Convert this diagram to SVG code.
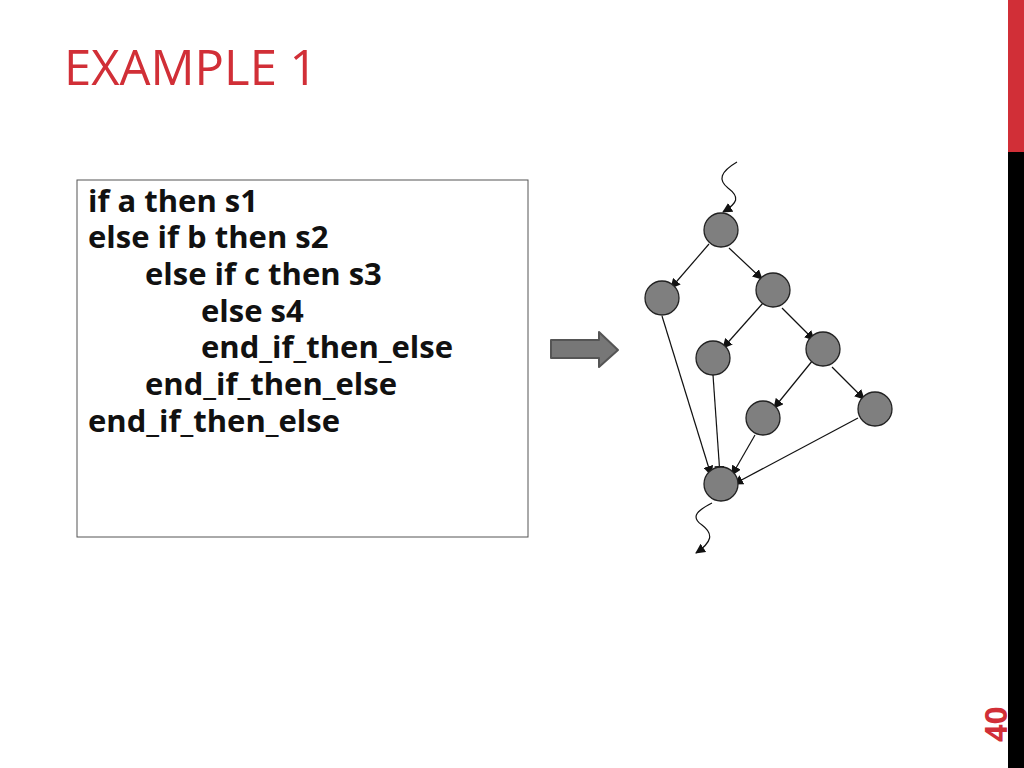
<svg xmlns="http://www.w3.org/2000/svg" width="1024" height="768" viewBox="0 0 1024 768">
<defs>
<style>
.title{font-family:"Open Sans","Liberation Sans",sans-serif;font-size:49px;fill:#d12f37}
.code{font-family:"Open Sans","Liberation Sans",sans-serif;font-size:31px;font-weight:bold;fill:#111}
.node{fill:#7f7f7f;stroke:#222;stroke-width:1.3}
.edge{fill:none;stroke:#111;stroke-width:1.2;marker-end:url(#ah)}
</style>
<marker id="ah" viewBox="0 0 10 10" refX="9" refY="5" markerWidth="10" markerHeight="10" markerUnits="userSpaceOnUse" orient="auto">
<path d="M0,0 L10,5 L0,10 Z" fill="#111"/>
</marker>
</defs>
<rect x="0" y="0" width="1024" height="768" fill="#fff"/>
<rect x="1008" y="0" width="16" height="152" fill="#d12f37"/>
<rect x="1008" y="152" width="16" height="616" fill="#000"/>
<text transform="translate(1006.5,742) rotate(-90)" font-family="'Open Sans','Liberation Sans',sans-serif" font-size="31" font-weight="bold" fill="#d12f37">40</text>
<text class="title" x="64" y="85">EXAMPLE 1</text>
<g id="codebox">
<rect x="77" y="180" width="451" height="357" fill="#fff" stroke="#555" stroke-width="1"/>
<text class="code" x="88" y="212">if a then s1</text>
<text class="code" x="88" y="248">else if b then s2</text>
<text class="code" x="145" y="285">else if c then s3</text>
<text class="code" x="201" y="322">else s4</text>
<text class="code" x="201" y="358">end_if_then_else</text>
<text class="code" x="145" y="395">end_if_then_else</text>
<text class="code" x="88" y="432">end_if_then_else</text>
</g>
<g id="bigarrow">
<path d="M551,340 L599,340 L599,332 L618,350 L599,367 L599,358 L551,358 Z" fill="#777" stroke="#555" stroke-width="2" stroke-linejoin="round"/>
</g>
<g id="connectors">
<path class="edge" d="M737,162 C720,172 718,180 728,188 C740,197 738,203 723,212"/>
<path class="edge" d="M709,244 L671,288"/>
<path class="edge" d="M729,248 L762,279"/>
<path class="edge" d="M763,303 L723,348"/>
<path class="edge" d="M782,308 L814,340"/>
<path class="edge" d="M813,360 L774,408"/>
<path class="edge" d="M832,367 L864,399"/>
<path class="edge" d="M662,316 L711,475"/>
<path class="edge" d="M713,375 L720,475"/>
<path class="edge" d="M755,435 L732,475"/>
<path class="edge" d="M858,418 L734,484"/>
<path class="edge" d="M712,503 C694,512 692,518 702,525 C714,534 712,542 696,553"/>
</g>
<g id="n1"><circle class="node" cx="721" cy="230" r="17"/></g>
<g id="n2"><circle class="node" cx="662" cy="298" r="17"/></g>
<g id="n3"><circle class="node" cx="773" cy="290" r="17"/></g>
<g id="n4"><circle class="node" cx="713" cy="358" r="17"/></g>
<g id="n5"><circle class="node" cx="823" cy="349" r="17"/></g>
<g id="n6"><circle class="node" cx="763" cy="418" r="17"/></g>
<g id="n7"><circle class="node" cx="875" cy="409" r="17"/></g>
<g id="n8"><circle class="node" cx="721" cy="484" r="17"/></g>
</svg>
